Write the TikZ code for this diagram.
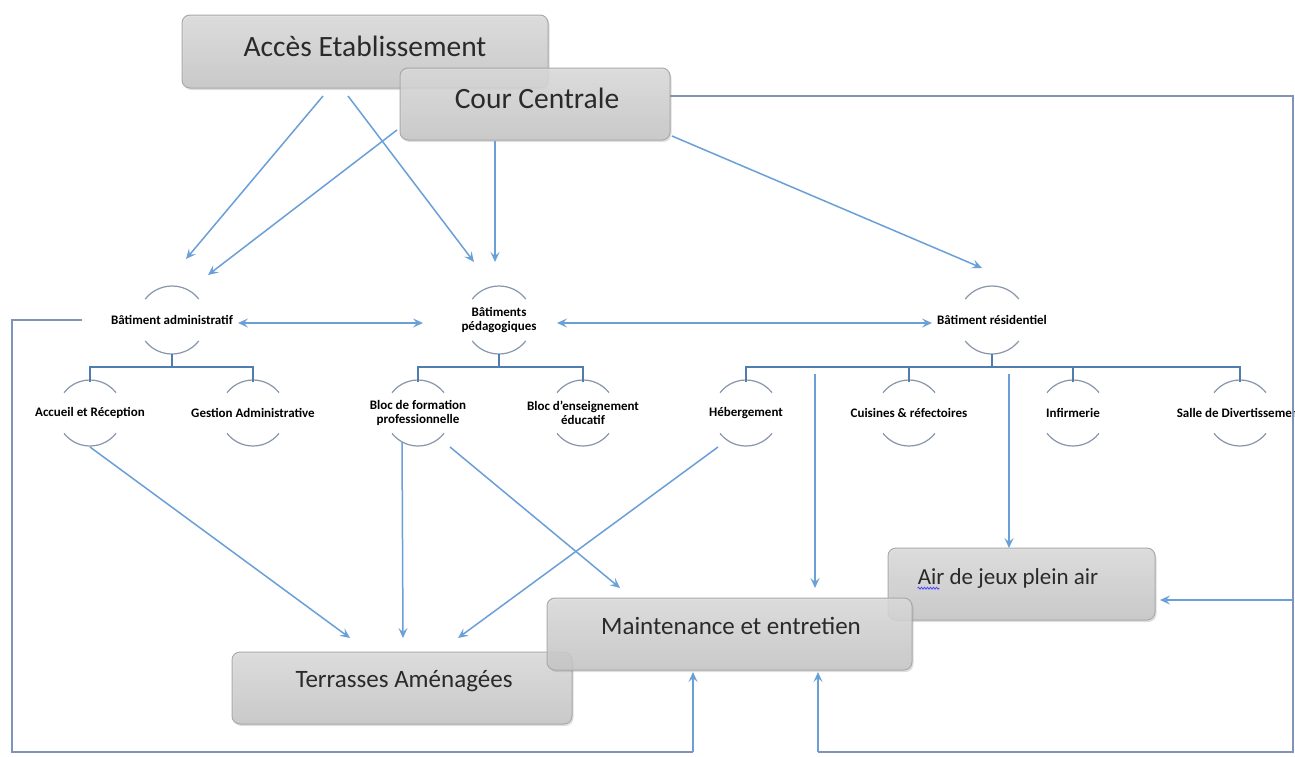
\documentclass[tikz,border=0pt]{standalone}
\usepackage{fontspec}
\setmainfont{Carlito}
\usetikzlibrary{arrows.meta,shadows,calc,decorations.pathmorphing}
\definecolor{arr}{HTML}{6A9FD8}
\definecolor{treec}{HTML}{4F7DB0}
\definecolor{arcc}{HTML}{8796AA}
\definecolor{brk}{HTML}{7F95B5}
\definecolor{boxtop}{HTML}{DCDCDC}
\definecolor{boxbot}{HTML}{C6C6C6}
\definecolor{boxline}{HTML}{A9A9A9}
\definecolor{txt}{HTML}{2A2A2A}
\newcommand{\hnode}[4]{%
  \node[htext] (#1) at (#2) {#3};
  \draw[arcline] ($(#1.center)+({-#4*cos(38)},{-#4*sin(38)})$) arc[start angle=218,end angle=322,radius=#4];
  \draw[arcline] ($(#1.center)+({#4*cos(38)},{#4*sin(38)})$) arc[start angle=38,end angle=142,radius=#4];
}
\begin{document}
\begin{tikzpicture}[x=1pt,y=-1pt,
  bigbox/.style={draw=boxline, line width=1pt, rounded corners=8pt,
    top color=boxtop, bottom color=boxbot, fill opacity=0.85,
    drop shadow={shadow xshift=1.5pt, shadow yshift=-2pt, opacity=0.25}},
  bigtext/.style={text=txt, font=\fontsize{25}{28}\selectfont, inner sep=0pt},
  htext/.style={text=black, font=\bfseries\fontsize{13}{13.5}\selectfont, align=center, inner sep=1pt},
  arcline/.style={draw=arcc, line width=1.2pt},
  treeline/.style={draw=treec, line width=1.5pt},
  arrow/.style={draw=arr, line width=1.5pt, -{Stealth[length=10pt,width=9pt,inset=4pt]}},
  darrow/.style={draw=arr, line width=1.5pt, {Stealth[length=10pt,width=9pt,inset=4pt]}-{Stealth[length=10pt,width=9pt,inset=4pt]}},
  brkline/.style={draw=brk, line width=2pt},
]
\useasboundingbox[fill=white] (0,0) rectangle (1295,756);

% ---------- boxes ----------
\path[bigbox] (182,15) rectangle (548,88);
\node[bigtext,font=\fontsize{29.5}{32}\selectfont] (acc) at (365,46) {Accès Etablissement};
\path[bigbox] (400,68) rectangle (670,140);
\node[bigtext,font=\fontsize{29.5}{32}\selectfont] (cour) at (537,98) {Cour Centrale};
\coordinate (courE) at (670,96);
\path[bigbox] (232,652) rectangle (572,724);
\node[bigtext] (terr) at (404,681) {Terrasses Aménagées};
\path[bigbox] (888,548) rectangle (1155,620);
\node[bigtext,font=\fontsize{23}{26}\selectfont] (air) at (1008,578) {Air de jeux plein air};
\path[bigbox] (547,598) rectangle (912,670);
\node[bigtext] (maint) at (731,626) {Maintenance et entretien};
\draw[blue!70!white, line width=0.8pt, decorate, decoration={snake, amplitude=1pt, segment length=3pt}]
  ($(air.south west)+(0,0)$) -- ($(air.south west)+(22,0)$);

% ---------- hierarchy nodes ----------
\hnode{adm}{172,320}{Bâtiment administratif}{34}
\hnode{ped}{499,320}{Bâtiments\\pédagogiques}{34}
\hnode{res}{992,320}{Bâtiment résidentiel}{34}
\hnode{acu}{90,413}{Accueil et Réception}{33}
\hnode{ges}{253,413}{Gestion Administrative}{33}
\hnode{bfp}{418,413}{Bloc de formation\\professionnelle}{33}
\hnode{bee}{583,413}{Bloc d'enseignement\\éducatif}{33}
\hnode{heb}{746,413}{Hébergement}{33}
\hnode{cui}{909,413}{Cuisines \& réfectoires}{33}
\hnode{inf}{1073,413}{Infirmerie}{33}
\hnode{sal}{1240,413}{Salle de Divertissement}{33}

% ---------- tree lines ----------
\draw[treeline] ($(adm.center)+(0,34)$) -- ($(adm.center)+(0,47)$);
\draw[treeline] ($(acu.center)+(0,-31)$) |- ($(adm.center)+(0,47)$) -| ($(ges.center)+(0,-31)$);
\draw[treeline] ($(ped.center)+(0,34)$) -- ($(ped.center)+(0,47)$);
\draw[treeline] ($(bfp.center)+(0,-31)$) |- ($(ped.center)+(0,47)$) -| ($(bee.center)+(0,-31)$);
\draw[treeline] ($(res.center)+(0,34)$) -- ($(res.center)+(0,47)$);
\draw[treeline] ($(heb.center)+(0,-31)$) |- ($(res.center)+(0,47)$) -| ($(sal.center)+(0,-31)$);
\draw[treeline] ($(cui.center)+(0,-31)$) -- ($(cui.center)+(0,-46)$);
\draw[treeline] ($(inf.center)+(0,-31)$) -- ($(inf.center)+(0,-46)$);
\coordinate (v1) at (815,374);
\coordinate (v2) at (1009,374);

% ---------- arrows from top boxes ----------
\draw[arrow] ($(acc)+(-42,50)$) -- ($(adm.center)+(14,-61)$);
\draw[arrow] ($(acc)+(-17,50)$) -- ($(ped.center)+(-25,-58)$);
\draw[arrow] ($(cour)+(-140,32)$) -- ($(adm.center)+(36,-45)$);
\draw[arrow] ($(cour)+(-42,43)$) -- ($(ped.center)+(-4,-58)$);
\draw[arrow] ($(cour)+(135,38)$) -- ($(res.center)+(-10,-52)$);

% ---------- horizontal double arrows ----------
\draw[darrow] ($(adm.center)+(66,3)$) -- ($(ped.center)+(-76,3)$);
\draw[darrow] ($(ped.center)+(58,3)$) -- ($(res.center)+(-60,3)$);

% ---------- lower arrows ----------
\draw[arrow] ($(acu.center)+(0,34)$) -- ($(terr)+(-54,-43)$);
\draw[arrow] ($(bfp.center)+(-16,29)$) -- ($(terr)+(-1,-43)$);
\draw[arrow] ($(heb.center)+(-28,34)$) -- ($(terr)+(54,-43)$);
\draw[arrow] ($(bfp.center)+(32,34)$) -- ($(maint)+(-111,-38)$);
\draw[arrow] (v1) -- ($(maint)+(84,-38)$);
\draw[arrow] (v2) -- ($(air)+(1,-30)$);

% ---------- brackets ----------
\draw[brkline] ($(adm.center)+(-90,0)$) -- (12,320) -- (12,752) -- (693,752);
\draw[arrow] (693,752) -- ($(maint)+(-38,46)$);
\draw[brkline] (courE) -- (1293,96) -- (1293,752) -- (818,752);
\draw[arrow] (818,752) -- ($(maint)+(87,46)$);
\draw[arrow] (1293,600) -- ($(air)+(152,22)$);
\end{tikzpicture}
\end{document}
